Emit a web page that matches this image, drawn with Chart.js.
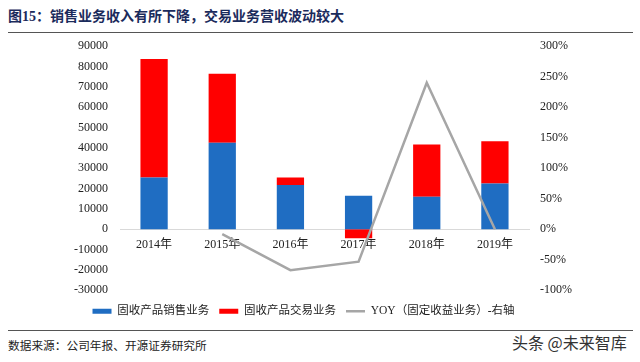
<!DOCTYPE html>
<html>
<head>
<meta charset="utf-8">
<script src="https://cdn.jsdelivr.net/npm/chart.js@4.4.1/dist/chart.umd.min.js"></script>
<style>
  body { margin: 0; width: 640px; height: 362px; background: #fff; position: relative; overflow: hidden; }
  #title { position: absolute; left: 8px; top: 5px; font: bold 14px "Liberation Serif", "Noto Sans CJK SC", serif; color: #1b2b5c; white-space: nowrap; }
  .rule { position: absolute; left: 8px; width: 625px; height: 1px; background: #555; }
  #box { position: absolute; left: 0; top: 27px; width: 640px; height: 300px; }
  #source { position: absolute; left: 8px; top: 336px; font: 11.7px "Liberation Serif", "Noto Sans CJK SC", serif; color: #222; white-space: nowrap; }
  #mark { position: absolute; left: 512px; top: 330px; font: 16px "Noto Sans CJK SC", sans-serif; color: #333; white-space: nowrap; }
</style>
</head>
<body>
<div id="title">图15：销售业务收入有所下降，交易业务营收波动较大</div>
<div class="rule" style="top:32px"></div>
<div id="box"><canvas id="chart"></canvas></div>
<div class="rule" style="top:330px"></div>
<div id="source">数据来源：公司年报、开源证券研究所</div>
<div id="mark">头条 @未来智库</div>

<script>
// categories and values
const years = ["2014年", "2015年", "2016年", "2017年", "2018年", "2019年"];
const salesIncome = [25500, 42500, 21750, 16500, 16000, 22550];   // 固收产品销售业务
const tradingIncome = [58200, 33900, 3750, -4400, 25650, 20750];  // 固收产品交易业务
const yoy = [null, -0.08, -0.67, -0.53, 2.40, 0.0];                // YOY 右轴

const serif = "'Liberation Serif', 'Noto Sans CJK SC', serif";
const padRight = 33;

const ctx = document.getElementById("chart").getContext("2d");
new Chart(ctx, {
  type: "bar",
  data: {
    labels: years,
    datasets: [
      {
        label: "固收产品销售业务",
        data: salesIncome,
        backgroundColor: "#1f6dc2",
        stack: "s",
        yAxisID: "y",
        pointStyle: "rect",
        order: 2
      },
      {
        label: "固收产品交易业务",
        data: tradingIncome,
        backgroundColor: "#ff0000",
        stack: "s",
        yAxisID: "y",
        pointStyle: "rect",
        order: 2
      },
      {
        type: "line",
        label: "YOY（固定收益业务）-右轴",
        data: yoy,
        borderColor: "#a6a6a6",
        backgroundColor: "#a6a6a6",
        borderWidth: 2.5,
        pointRadius: 0,
        pointStyle: "line",
        tension: 0,
        yAxisID: "y1",
        order: 1
      }
    ]
  },
  options: {
    responsive: true,
    maintainAspectRatio: false,
    animation: false,
    layout: { padding: { top: 8, left: 0, right: padRight, bottom: 0 } },
    datasets: { bar: { categoryPercentage: 0.8, barPercentage: 0.5 } },
    plugins: {
      tooltip: { enabled: false },
      legend: {
        position: "bottom",
        title: { display: true, text: " ", font: { size: 1 }, padding: { top: 0, bottom: 4 } },
        labels: {
          usePointStyle: true,
          pointStyleWidth: 19,
          boxHeight: 5,
          padding: 10,
          color: "#222",
          font: { family: serif, size: 11.5 },
          sort: (a, b) => a.datasetIndex - b.datasetIndex
        }
      }
    },
    scales: {
      x: {
        position: { y: 0 },
        z: 1,
        grid: { display: false, drawTicks: false },
        border: { display: true, color: "#d9d9d9", width: 1 },
        ticks: { padding: 8, color: "#222", font: { family: serif, size: 12 } }
      },
      y: {
        position: "left",
        stacked: true,
        min: -30000,
        max: 90000,
        grid: { display: false, drawTicks: false },
        border: { display: false },
        ticks: {
          stepSize: 10000,
          padding: 12,
          color: "#222",
          font: { family: serif, size: 12 },
          callback: v => String(v)
        },
        afterFit: s => { s.width = 120; }
      },
      y1: {
        position: "right",
        min: -1,
        max: 3,
        grid: { display: false, drawTicks: false },
        border: { display: false },
        ticks: {
          stepSize: 0.5,
          padding: 11,
          color: "#222",
          font: { family: serif, size: 12 },
          callback: v => Math.round(v * 100) + "%"
        },
        afterFit: s => { s.width = 640 - padRight - 529; }
      }
    }
  }
});
</script>
</body>
</html>
